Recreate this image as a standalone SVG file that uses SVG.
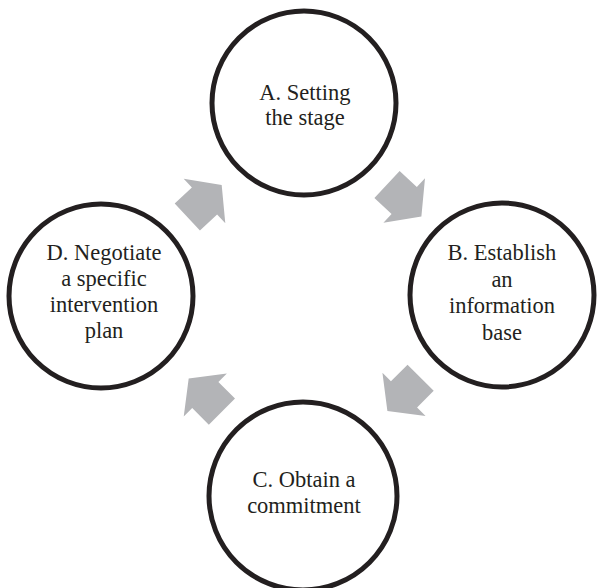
<svg xmlns="http://www.w3.org/2000/svg" width="597" height="588" viewBox="0 0 597 588">
<style>
.node circle{fill:#fff;stroke:#231f20;stroke-width:5}
.node text{font-family:"Liberation Serif","Times New Roman",serif;font-size:22.5px;fill:#231f20;text-anchor:middle}
.arrow{fill:#b3b4b7}
</style>
<defs>
<polygon id="blk" points="-23.5,-18.5 0,-18.5 0,-30.5 23.5,0 0,30.5 0,18.5 -23.5,18.5"/>
</defs>
<rect width="597" height="588" fill="#fff"/>
<g id="connectors">
<use href="#blk" class="arrow" transform="translate(204.5,201) rotate(-43)"/>
<use href="#blk" class="arrow" transform="translate(404.2,200.5) rotate(43)"/>
<use href="#blk" class="arrow" transform="translate(404,394.4) rotate(135)"/>
<use href="#blk" class="arrow" transform="translate(205.3,395) rotate(-135)"/>
</g>
<g id="nodeA" class="node">
<circle cx="304" cy="103" r="92"/>
<text x="305" y="100">A. Setting</text>
<text x="305" y="125">the stage</text>
</g>
<g id="nodeB" class="node">
<circle cx="502" cy="295" r="92"/>
<text x="502" y="260">B. Establish</text>
<text x="502" y="287">an</text>
<text x="502" y="313">information</text>
<text x="502" y="340">base</text>
</g>
<g id="nodeC" class="node">
<circle cx="303" cy="496" r="94"/>
<text x="304" y="487">C. Obtain a</text>
<text x="304" y="513">commitment</text>
</g>
<g id="nodeD" class="node">
<circle cx="101" cy="296" r="92"/>
<text x="104" y="260">D. Negotiate</text>
<text x="104" y="286">a specific</text>
<text x="104" y="312">intervention</text>
<text x="104" y="338">plan</text>
</g>
</svg>
